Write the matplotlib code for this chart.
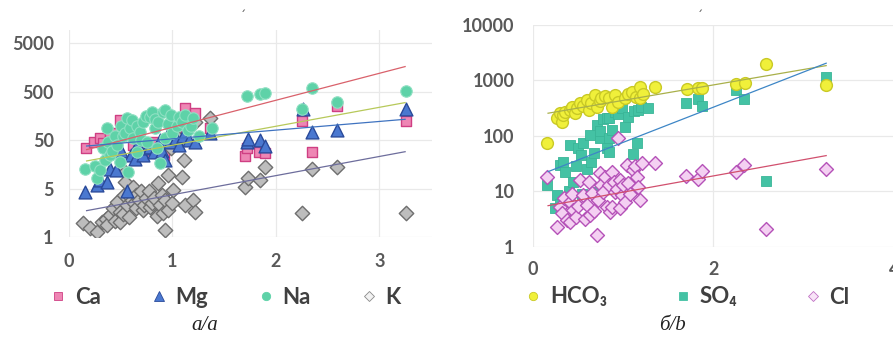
import matplotlib
matplotlib.use("Agg")
import matplotlib.pyplot as plt
from matplotlib.lines import Line2D

# ---------------- data: panel a (cations) ----------------
ca_x = [0.16, 0.24, 0.30, 0.33, 0.40, 0.45, 0.49, 0.55, 0.59, 0.62, 0.68, 0.72, 0.78, 0.82, 0.88,
        0.92, 0.98, 1.03, 1.12, 1.22, 1.36, 1.70, 1.72, 1.84, 1.90, 2.25, 2.35, 2.59, 3.26]
ca_y = [34, 47, 55, 44, 60, 70, 131, 90, 5.5, 40, 30, 35, 28, 45, 30,
        25, 40, 60, 229, 180, 88, 23.7, 34, 29, 27, 122, 29, 255, 122]

mg_x = [0.155, 0.27, 0.30, 0.365, 0.40, 0.45, 0.50, 0.56, 0.60, 0.64, 0.66, 0.70, 0.72, 0.75, 0.78,
        0.82, 0.86, 0.88, 0.90, 0.93, 0.95, 0.98, 1.03, 1.06, 1.10, 1.16, 1.22, 1.36,
        1.72, 1.735, 1.85, 1.90, 2.26, 2.35, 2.59, 3.26]
mg_y = [4.2, 6.0, 7.5, 6.8, 13, 12, 30, 4.6, 25, 21, 40, 30, 25, 35, 37,
        28, 40, 50, 30, 19.6, 60, 45, 55, 40, 60, 50, 47, 70,
        45, 52, 51, 38, 218, 75, 81, 218]

na_x = [0.155, 0.25, 0.27, 0.30, 0.33, 0.35, 0.365, 0.38, 0.40, 0.42, 0.44, 0.46, 0.49, 0.50, 0.52,
        0.54, 0.56, 0.57, 0.59, 0.61, 0.62, 0.655, 0.66, 0.69, 0.70, 0.72, 0.74, 0.75, 0.78, 0.80,
        0.83, 0.83, 0.85, 0.865, 0.88, 0.91, 0.93, 0.93, 0.96, 0.99, 1.00, 1.04, 1.06, 1.09, 1.12,
        1.15, 1.18, 1.20, 1.26, 1.38, 1.72, 1.85, 1.90, 2.25, 2.35, 2.59, 3.26]
na_y = [13, 15, 8.2, 12, 35, 20, 88, 45, 25, 30, 60, 40, 18, 100, 60,
        70, 142, 11, 88, 130, 55, 29, 100, 75, 50, 120, 160, 47, 150, 194,
        88, 140, 34, 120, 16.8, 194, 211, 55, 110, 166, 70, 100, 150, 120, 166,
        80, 100, 142, 60, 88, 410, 450, 460, 218, 590, 313, 527]

k_x = [0.14, 0.20, 0.27, 0.32, 0.36, 0.365, 0.40, 0.43, 0.44, 0.46, 0.49, 0.49, 0.52, 0.53, 0.54,
       0.54, 0.56, 0.58, 0.58, 0.61, 0.62, 0.63, 0.65, 0.65, 0.68, 0.70, 0.72, 0.73, 0.74, 0.77,
       0.78, 0.80, 0.82, 0.85, 0.865, 0.88, 0.90, 0.91, 0.93, 0.93, 0.96, 0.96, 0.99, 1.00, 1.01,
       1.04, 1.09, 1.11, 1.12, 1.16, 1.20, 1.22, 1.22, 1.36,
       1.70, 1.735, 1.85, 1.90, 2.25, 2.35, 2.59, 3.26]
k_y = [0.97, 0.77, 0.65, 1.05, 1.2, 0.88, 1.44, 1.98, 1.1, 2.7, 1.69, 1.05, 1.5, 3.7, 11.3,
       7.0, 2.3, 1.3, 3.5, 2.9, 5.5, 2.5, 3.7, 2.0, 3.0, 4.4, 1.8, 2.3, 3.2, 4.4,
       2.1, 2.6, 3.2, 1.4, 6.5, 2.3, 3.8, 1.56, 2.9, 0.7, 9.6, 1.83, 34, 2.6, 4.7,
       59, 8.9, 19.6, 2.3, 103, 2.9, 1.69, 120, 142,
       5.5, 8.2, 7.5, 13.9, 1.6, 12.6, 13.9, 1.6]

# trendlines (exponential: value at start and end x)
trend_a_x = [0.17, 3.25]
trend_ca = [32, 1645]
trend_na = [18.7, 298]
trend_mg = [38, 135]
trend_k = [1.77, 29]

a_xticks = [0, 1, 2, 3]
a_yticks = [0.5, 5, 50, 500, 5000]
a_yticklabels = ["1", "5", "50", "500", "5000"]

# ---------------- data: panel b (anions) ----------------
hco3_x = [0.155, 0.27, 0.30, 0.33, 0.34, 0.36, 0.41, 0.44, 0.47, 0.49, 0.52, 0.56, 0.60, 0.62,
          0.65, 0.69, 0.71, 0.74, 0.76, 0.80, 0.84, 0.875, 0.91, 0.95, 1.02, 1.05, 1.10, 1.14,
          1.19, 1.19, 1.22, 1.35, 1.71, 1.83, 1.87, 2.25, 2.35, 2.58, 3.25]
hco3_y = [73, 208, 256, 180, 238, 270, 294, 330, 260, 315, 387, 350, 444, 294,
          390, 547, 337, 420, 477, 520, 477, 337, 547, 400, 477, 560, 628, 500,
          773, 477, 560, 753, 690, 720, 720, 850, 890, 1990, 830]

so4_x = [0.155, 0.25, 0.27, 0.30, 0.30, 0.34, 0.36, 0.40, 0.41, 0.45, 0.48, 0.50, 0.54, 0.55,
         0.56, 0.60, 0.63, 0.65, 0.68, 0.71, 0.71, 0.745, 0.75, 0.78, 0.82, 0.82, 0.84, 0.84,
         0.84, 0.88, 0.91, 0.95, 0.985, 1.02, 1.05, 1.11, 1.12, 1.15, 1.17, 1.20, 1.28,
         1.70, 1.83, 1.88, 2.25, 2.34, 2.58, 3.25]
so4_y = [13, 5, 8.6, 30, 6, 34, 22.6, 10, 69, 15, 28, 60, 45, 9,
         73, 25, 104, 34, 50, 157, 9.8, 91, 120, 200, 208, 60, 208, 91,
         52, 130, 273, 250, 315, 147, 220, 48, 280, 73, 294, 330, 315,
         398, 459, 346, 674, 459, 15.4, 1140]

cl_x = [0.155, 0.27, 0.30, 0.32, 0.35, 0.38, 0.41, 0.41, 0.43, 0.45, 0.48, 0.50, 0.52, 0.56,
        0.58, 0.60, 0.62, 0.63, 0.66, 0.68, 0.71, 0.72, 0.745, 0.76, 0.78, 0.80, 0.82, 0.84,
        0.86, 0.875, 0.875, 0.90, 0.91, 0.93, 0.95, 0.97, 0.97, 0.985, 1.00, 1.02, 1.04, 1.06,
        1.08, 1.11, 1.13, 1.15, 1.17, 1.19, 1.21, 1.35, 1.70, 1.83, 1.88, 2.25, 2.34, 2.58, 3.25]
cl_y = [18.4, 2.3, 5.3, 4.0, 7.5, 3.0, 6.5, 2.8, 9, 4.6, 3.4, 5.5, 16, 8.6,
        3.2, 5.7, 15, 3.7, 9.5, 4.4, 1.6, 7, 21, 13, 9.8, 18, 5.3, 13,
        4.2, 22.6, 5.3, 15, 9.8, 11, 91, 16, 4.9, 8.6, 13, 6.5, 30, 14,
        9, 24, 28, 18, 12, 7.0, 32, 32, 18.9, 17, 23.5, 22.6, 30, 2.1, 25.3]

trend_b_x = [0.17, 3.25]
trend_hco3 = [256, 1850]
trend_so4 = [22.6, 2045]
trend_cl = [5.5, 44]

b_xticks = [0, 2, 4]
b_yticks = [1, 10, 100, 1000, 10000]
b_yticklabels = ["1", "10", "100", "1000", "10000"]

# ---------------- styling ----------------
W, H = 893, 338
fig = plt.figure(figsize=(W / 100, H / 100), dpi=100)

TICK_FONT = dict(family=["Lato", "DejaVu Sans"], weight="bold", size=13)
TICK_COLOR = "#595959"
GRID = "#e9e9e9"


def px_axes(x0, y0, x1, y1):
    return fig.add_axes([x0 / W, 1 - y1 / H, (x1 - x0) / W, (y1 - y0) / H])


def style_axis(ax, xticks, yticks, ylabels, xpad, ypad):
    ax.set_yscale("log")
    ax.set_xticks(xticks)
    ax.set_xticklabels([str(t) for t in xticks], fontdict=TICK_FONT, color=TICK_COLOR)
    ax.set_yticks(yticks)
    ax.set_yticklabels(ylabels, fontdict=TICK_FONT, color=TICK_COLOR)
    ax.yaxis.set_minor_locator(matplotlib.ticker.NullLocator())
    ax.tick_params(axis="both", length=0)
    ax.tick_params(axis="x", pad=xpad)
    ax.tick_params(axis="y", pad=ypad)
    for s in ax.spines.values():
        s.set_visible(False)
    ax.grid(True, color=GRID, lw=0.9)
    ax.set_axisbelow(True)


# panel a
axa = px_axes(69, 30, 432, 237.3)
axa.set_xlim(0, 3.51)
axa.set_ylim(0.5, 10 ** 3.97)
style_axis(axa, a_xticks, a_yticks, a_yticklabels, 11, 11)

axa.scatter(ca_x, ca_y, marker="s", s=62, c="#ee86b4", edgecolors="#cf3f83", linewidths=1.0, zorder=3)
axa.scatter(k_x, k_y, marker="D", s=54, c="#bdbdbd", edgecolors="#6e6e6e", linewidths=1.0, zorder=3)
axa.scatter(mg_x, mg_y, marker="^", s=85, c="#4a78d0", edgecolors="#2a4a9a", linewidths=1.0, zorder=4)
axa.scatter(na_x, na_y, marker="o", s=68, c="#5ed2a8", edgecolors="#8fe0c2", linewidths=0.8, zorder=5)

axa.plot(trend_a_x, trend_ca, color="#d9616b", lw=0.9, zorder=6)
axa.plot(trend_a_x, trend_na, color="#b7c95a", lw=0.9, zorder=6)
axa.plot(trend_a_x, trend_mg, color="#3f73c0", lw=0.9, zorder=6)
axa.plot(trend_a_x, trend_k, color="#6d6d9c", lw=0.9, zorder=6)

# panel b
axb = px_axes(532.7, 25, 893.9, 246.7)
axb.set_xlim(0, 4)
axb.set_ylim(1, 10000)
style_axis(axb, b_xticks, b_yticks, b_yticklabels, 10, 13)

axb.scatter(so4_x, so4_y, marker="s", s=50, c="#44c2a4", edgecolors="#3ab597", linewidths=0.6, zorder=3)
axb.scatter(cl_x, cl_y, marker="D", s=50, c="#f4d0f2", edgecolors="#b552b8", linewidths=1.0, zorder=4)
axb.scatter(hco3_x, hco3_y, marker="o", s=72, c="#f0f03a", edgecolors="#c9c925", linewidths=1.0, zorder=5)

axb.plot(trend_b_x, trend_hco3, color="#a9b04a", lw=0.9, zorder=6)
axb.plot(trend_b_x, trend_so4, color="#3d86c6", lw=0.9, zorder=6)
axb.plot(trend_b_x, trend_cl, color="#d1506e", lw=0.9, zorder=6)

# legends
LEG_FONT = dict(family=["Lato", "DejaVu Sans"], weight="bold", size=16)


def handle(marker, fc, ec, size=6):
    return Line2D([], [], ls="none", marker=marker, markersize=size, markerfacecolor=fc,
                  markeredgecolor=ec, markeredgewidth=0.6)


leg_a = fig.legend(
    [handle("s", "#ee86b4", "#cf3f83"), handle("^", "#4a78d0", "#2a4a9a", 7),
     handle("o", "#5ed2a8", "#5ed2a8"), handle("D", "#f2f2f2", "#8a8a8a", 5.5)],
    ["Ca", "Mg", "Na", "K"], loc="center", bbox_to_anchor=(226 / W, 1 - 297 / H), ncol=4,
    frameon=False, prop=LEG_FONT, handlelength=0.6, handletextpad=0.45, columnspacing=2.3,
    borderpad=0)
for t in leg_a.get_texts():
    t.set_color("#404040")

leg_b = fig.legend(
    [handle("o", "#f0f03a", "#c9c925"), handle("s", "#44c2a4", "#44c2a4"),
     handle("D", "#f8e4f7", "#c070c4", 5.5)],
    ["HCO₃", "SO₄", "Cl"], loc="center", bbox_to_anchor=(688 / W, 1 - 297 / H), ncol=3,
    frameon=False, prop=LEG_FONT, handlelength=0.6, handletextpad=0.45, columnspacing=3.1,
    borderpad=0)
for t in leg_b.get_texts():
    t.set_color("#404040")

# captions
CAP = dict(family=["Liberation Serif", "DejaVu Serif"], style="italic", size=15, color="#222222",
           ha="center", va="center")
fig.text(205 / W, 1 - 325 / H, "а/a", **CAP)
fig.text(672 / W, 1 - 325 / H, "б/b", **CAP)

# small remnants of cut-off titles
fig.text(243 / W, 1 - 16 / H, "ˊ", fontsize=9, color="#555555", ha="center", va="center")
fig.text(700 / W, 1 - 16 / H, "ˊ", fontsize=9, color="#555555", ha="center", va="center")

fig.savefig("out.png", dpi=100)
